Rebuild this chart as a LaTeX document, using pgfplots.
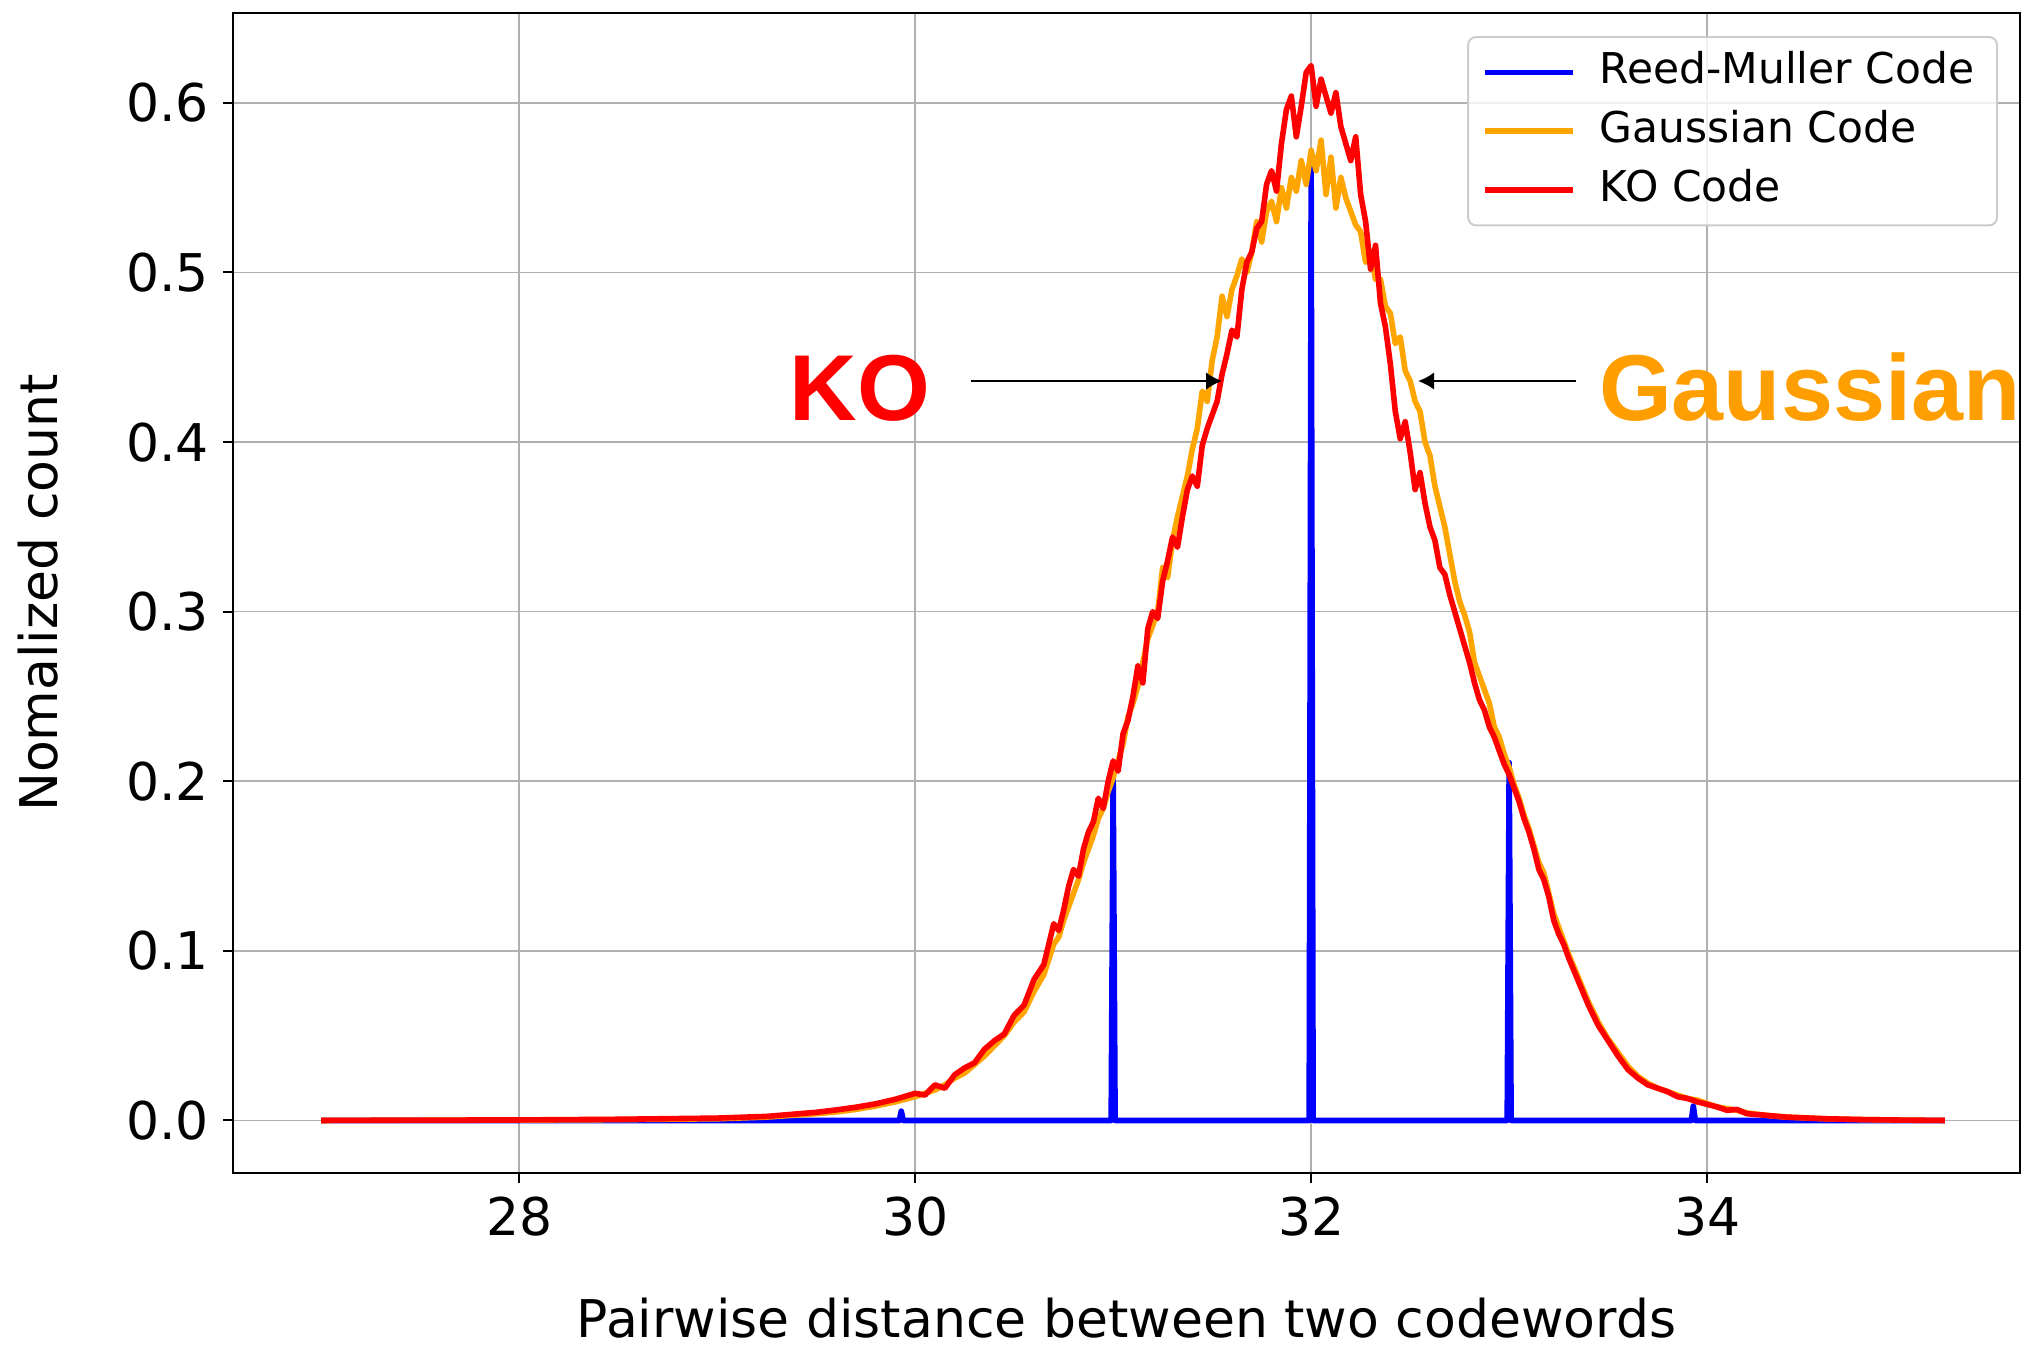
\documentclass[border=0pt]{standalone}
\usepackage{fontspec}
\setmainfont{DejaVu Sans}
\newfontfamily\arialfont{Liberation Sans}
\usepackage{pgfplots}
\pgfplotsset{compat=1.18}
\usetikzlibrary{arrows.meta}

\definecolor{rmblue}{RGB}{0,0,255}
\definecolor{gsorange}{RGB}{255,165,0}
\definecolor{gstext}{RGB}{255,158,0}
\definecolor{kored}{RGB}{255,0,0}
\definecolor{gridgray}{RGB}{176,176,176}

\begin{document}
\begin{tikzpicture}
\begin{axis}[
    scale only axis,
    width=446.75pt, height=290pt,
    xmin=26.555, xmax=35.58,
    ymin=-0.031, ymax=0.653,
    xtick={28,30,32,34},
    ytick={0,0.1,0.2,0.3,0.4,0.5,0.6},
    yticklabel style={/pgf/number format/.cd, fixed, fixed zerofill, precision=1},
    /pgf/number format/assume math mode=true,
    tick label style={font=\fontsize{13}{15}\selectfont},
    label style={font=\fontsize{13}{15}\selectfont},
    tick pos=left,
    tick align=outside,
    major tick length=2.5pt,
    tick style={black, line width=0.5pt},
    axis line style={black, line width=0.5pt},
    grid=major,
    grid style={gridgray, line width=0.4pt},
    xlabel={Pairwise distance between two codewords},
    ylabel={Nomalized count},
    xlabel style={at={(axis description cs:0.5,-0.1415)}, anchor=base},
    ylabel style={at={(axis description cs:-0.098,0.5)}, anchor=base},
    legend cell align=left,
    legend image code/.code={\draw[#1, line width=1.4pt] (0pt,0pt) -- (22pt,0pt);},
    legend style={at={(1,1)}, anchor=north east, xshift=-5.5pt, yshift=-5.75pt,
      draw={rgb,255:red,204;green,204;blue,204}, line width=0.5pt, rounded corners=2pt,
      fill=white, fill opacity=0.8, text opacity=1,
      font=\fontsize{10.6}{12.5}\selectfont,
      inner xsep=3.5pt, inner ysep=1.5pt, column sep=3.8pt,
      nodes={inner sep=2.2pt, text height=8pt, text depth=2.3pt}},
  ]
  % Reed-Muller
  \addplot[rmblue, line width=1.4pt, line join=round] coordinates {
    (27.0,0) (29.92,0) (29.93,0.0055) (29.94,0)
    (30.99,0) (31.0,0.204) (31.01,0)
    (31.99,0) (32.0,0.561) (32.01,0)
    (32.99,0) (33.0,0.211) (33.01,0)
    (33.92,0) (33.93,0.0085) (33.94,0) (35.2,0)
  };
  \addlegendentry{Reed-Muller Code}
  % Gaussian
  \addplot[gsorange, line width=1.4pt, line join=round] coordinates {
    (27.0,0.0000) (27.5,0.0001) (28.0,0.0002) (28.5,0.0005) (29.0,0.0010)
    (29.25,0.0020) (29.5,0.0040) (29.6,0.0050) (29.7,0.0065) (29.8,0.0085)
    (29.9,0.0110) (30.0,0.0140) (30.05,0.0160) (30.1,0.0180) (30.15,0.0210)
    (30.2,0.0250) (30.25,0.0280) (30.3,0.0330) (30.35,0.0380) (30.4,0.0440)
    (30.45,0.0500) (30.5,0.0580) (30.55,0.0640) (30.6,0.0760) (30.65,0.0860)
    (30.7,0.1040) (30.725,0.1080) (30.75,0.1180) (30.775,0.1260) (30.8,0.1340)
    (30.825,0.1420) (30.85,0.1520) (30.875,0.1600)
    (30.900,0.168) (30.925,0.178) (30.950,0.184) (30.975,0.194) (31.000,0.202)
    (31.025,0.212) (31.050,0.222) (31.075,0.238) (31.100,0.246) (31.125,0.256)
    (31.150,0.270) (31.175,0.284) (31.200,0.292) (31.225,0.300) (31.250,0.326)
    (31.275,0.320) (31.300,0.342) (31.325,0.356) (31.350,0.368) (31.375,0.380)
    (31.400,0.396) (31.425,0.408) (31.450,0.430) (31.475,0.424) (31.500,0.448)
    (31.525,0.462) (31.550,0.486) (31.575,0.474) (31.600,0.490) (31.625,0.498)
    (31.650,0.508) (31.675,0.500) (31.700,0.512) (31.725,0.530) (31.750,0.518)
    (31.775,0.536) (31.800,0.542) (31.825,0.530) (31.850,0.550) (31.875,0.538)
    (31.900,0.556) (31.925,0.548) (31.950,0.566) (31.975,0.552) (32.000,0.572)
    (32.025,0.560) (32.050,0.578) (32.075,0.546) (32.100,0.568) (32.125,0.538)
    (32.150,0.556) (32.175,0.544) (32.200,0.536) (32.225,0.528) (32.250,0.524)
    (32.275,0.506) (32.300,0.512) (32.325,0.496) (32.350,0.496) (32.375,0.480)
    (32.400,0.476) (32.425,0.458) (32.450,0.462) (32.475,0.442) (32.500,0.436)
    (32.525,0.424) (32.550,0.418) (32.575,0.400) (32.600,0.392) (32.625,0.374)
    (32.650,0.362) (32.675,0.350) (32.700,0.334) (32.725,0.318) (32.750,0.306)
    (32.775,0.298) (32.800,0.288) (32.825,0.270) (32.850,0.262) (32.875,0.254)
    (32.900,0.246) (32.925,0.232) (32.950,0.226) (32.975,0.216) (33.000,0.208)
    (33.025,0.198) (33.050,0.190) (33.075,0.180) (33.100,0.172)
    (33.125,0.162) (33.15,0.152) (33.175,0.146) (33.2,0.134) (33.225,0.122)
    (33.25,0.114) (33.275,0.106) (33.3,0.098) (33.35,0.084) (33.4,0.070)
    (33.45,0.058) (33.5,0.048) (33.55,0.040) (33.6,0.032) (33.65,0.026)
    (33.7,0.022) (33.75,0.019) (33.8,0.017) (33.85,0.015) (33.9,0.013)
    (33.95,0.012) (34.0,0.010) (34.05,0.008) (34.1,0.007) (34.15,0.006)
    (34.2,0.0045) (34.3,0.0030) (34.4,0.0020) (34.6,0.0010) (34.8,0.0005)
    (35.0,0.0002) (35.2,0.0)
  };
  \addlegendentry{Gaussian Code}
  % KO
  \addplot[kored, line width=1.4pt, line join=round] coordinates {
    (27.0,0.0000) (27.5,0.0002) (28.0,0.0003) (28.5,0.0007) (29.0,0.0014)
    (29.25,0.0024) (29.5,0.0048) (29.6,0.0062) (29.7,0.0078) (29.8,0.0098)
    (29.9,0.0125) (30.0,0.0160) (30.05,0.0150) (30.1,0.0210) (30.15,0.0190)
    (30.2,0.0270) (30.25,0.0310) (30.3,0.0340) (30.35,0.0420) (30.4,0.0470)
    (30.45,0.0510) (30.5,0.0620) (30.55,0.0680) (30.6,0.0830) (30.65,0.0920)
    (30.7,0.1160) (30.725,0.1120) (30.75,0.1240) (30.775,0.1380) (30.8,0.1480)
    (30.825,0.1440) (30.85,0.1600) (30.875,0.1700)
    (30.900,0.176) (30.925,0.190) (30.950,0.184) (30.975,0.200) (31.000,0.212)
    (31.025,0.206) (31.050,0.228) (31.075,0.236) (31.100,0.250) (31.125,0.268)
    (31.150,0.258) (31.175,0.290) (31.200,0.300) (31.225,0.296) (31.250,0.318)
    (31.275,0.330) (31.300,0.344) (31.325,0.338) (31.350,0.356) (31.375,0.372)
    (31.400,0.380) (31.425,0.374) (31.450,0.398) (31.475,0.408) (31.500,0.416)
    (31.525,0.424) (31.550,0.440) (31.575,0.452) (31.600,0.466) (31.625,0.462)
    (31.650,0.490) (31.675,0.506) (31.700,0.512) (31.725,0.526) (31.750,0.530)
    (31.775,0.552) (31.800,0.560) (31.825,0.548) (31.850,0.576) (31.875,0.596)
    (31.900,0.604) (31.925,0.580) (31.950,0.598) (31.975,0.618) (32.000,0.622)
    (32.025,0.598) (32.050,0.614) (32.075,0.604) (32.100,0.594) (32.125,0.606)
    (32.150,0.586) (32.175,0.576) (32.200,0.566) (32.225,0.580) (32.250,0.546)
    (32.275,0.530) (32.300,0.502) (32.325,0.516) (32.350,0.482) (32.375,0.468)
    (32.400,0.446) (32.425,0.418) (32.450,0.402) (32.475,0.412) (32.500,0.394)
    (32.525,0.372) (32.550,0.382) (32.575,0.364) (32.600,0.350) (32.625,0.342)
    (32.650,0.326) (32.675,0.322) (32.700,0.310) (32.725,0.300) (32.750,0.290)
    (32.775,0.280) (32.800,0.270) (32.825,0.258) (32.850,0.248) (32.875,0.242)
    (32.900,0.232) (32.925,0.226) (32.950,0.218) (32.975,0.210) (33.000,0.204)
    (33.025,0.196) (33.050,0.188) (33.075,0.178) (33.100,0.170)
    (33.125,0.160) (33.15,0.148) (33.175,0.142) (33.2,0.132) (33.225,0.118)
    (33.25,0.110) (33.275,0.104) (33.3,0.096) (33.35,0.082) (33.4,0.068)
    (33.45,0.056) (33.5,0.047) (33.55,0.038) (33.6,0.030) (33.65,0.025)
    (33.7,0.021) (33.75,0.019) (33.8,0.017) (33.85,0.014) (33.9,0.013)
    (33.95,0.011) (34.0,0.0095) (34.05,0.0080) (34.1,0.0060) (34.15,0.0065)
    (34.2,0.0040) (34.3,0.0030) (34.4,0.0020) (34.6,0.0010) (34.8,0.0005)
    (35.0,0.0002) (35.2,0.0)
  };
  \addlegendentry{KO Code}

  % annotations
  \draw[-{Latex[length=4pt,width=4.4pt]}, line width=0.6pt, black]
    (axis cs:30.28,0.436) -- (axis cs:31.55,0.436);
  \draw[-{Latex[length=4pt,width=4.4pt]}, line width=0.6pt, black]
    (axis cs:33.34,0.436) -- (axis cs:32.54,0.436);
  \node[anchor=base, inner sep=0pt, text=kored,
    font=\arialfont\bfseries\fontsize{23.4}{28}\selectfont]
    at (axis cs:29.72,0.413) {KO};
  \node[anchor=base west, inner sep=0pt, text=gstext,
    font=\arialfont\bfseries\fontsize{23.4}{28}\selectfont]
    at (axis cs:33.45,0.413) {Gaussian};
\end{axis}
\pgfresetboundingbox
\path[use as bounding box]
  ([shift={(-58.25pt,-43.25pt)}]current axis.south west)
  rectangle ([shift={(2pt,3.25pt)}]current axis.north east);
\end{tikzpicture}
\end{document}
